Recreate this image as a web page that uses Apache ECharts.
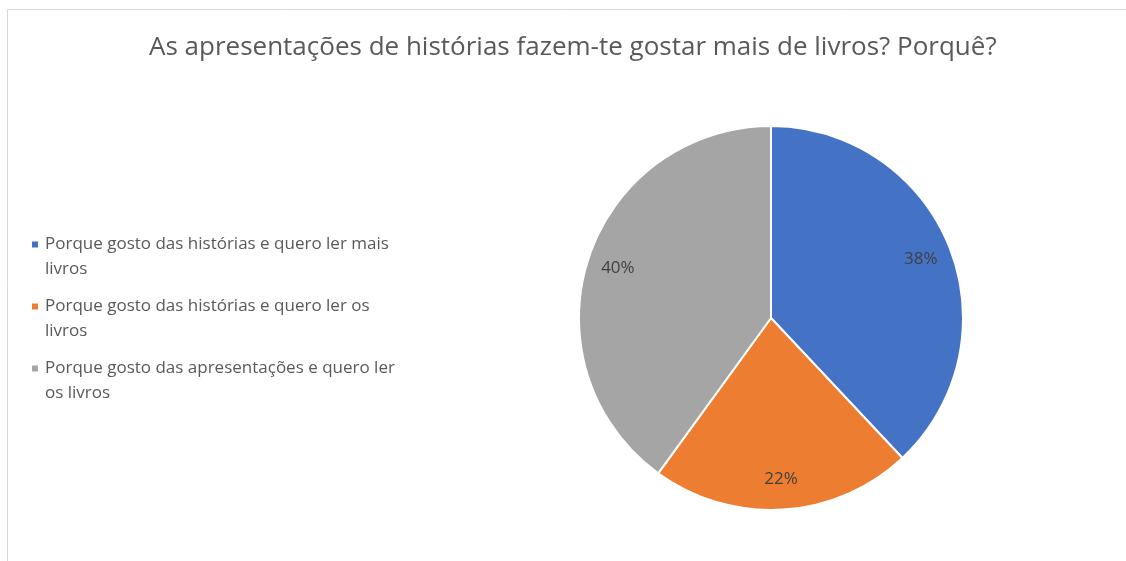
<!DOCTYPE html>
<html lang="en">
<head>
    <meta charset="UTF-8">
    <script src="https://cdn.jsdelivr.net/npm/echarts@6/dist/echarts.min.js"></script>
    <style>
        * {
            margin: 0;
            padding: 0;
        }
        #pie {
            width: 1126px;
            height: 561px;
            background: #fff;
        }
    </style>
</head>
<body>
<div id="pie"></div>

<script>
    const titleText = 'As apresentações de histórias fazem-te gostar mais de livros? Porquê?'
    const categories = [
        'Porque gosto das histórias e quero ler mais livros',
        'Porque gosto das histórias e quero ler os livros',
        'Porque gosto das apresentações e quero ler os livros'
    ]
    // legend text as it wraps in the picture
    const legendLines = [
        'Porque gosto das histórias e quero ler mais\nlivros',
        'Porque gosto das histórias e quero ler os\nlivros',
        'Porque gosto das apresentações e quero ler\nos livros'
    ]
    const values = [38, 22, 40]
    const colors = ['#4472C4', '#ED7D31', '#A5A5A5']

    const initPieChart = () => {
        const myChart = echarts.init(document.getElementById('pie'))
        const pieData = categories.map((name, i) => ({name, value: values[i]}))

        // square sits on the first text line: tiny segments stretch the path box to 2 lines
        const legendIcon = 'path://M0 0L0.01 0M0 9.5h6v6h-6zM8 50L7.99 50'

        const option = {
            animation: false,
            color: colors,
            title: {
                text: titleText,
                left: 144,
                top: 30,
                textStyle: {
                    fontFamily: 'Open Sans',
                    fontWeight: 'normal',
                    fontSize: 26,
                    color: '#595959'
                }
            },
            legend: {
                orient: 'vertical',
                left: 27,
                top: 227,
                icon: legendIcon,
                itemWidth: 8,
                itemHeight: 50,
                itemGap: 12,
                itemStyle: {borderWidth: 0},
                formatter: name => legendLines[categories.indexOf(name)],
                textStyle: {
                    fontFamily: 'Open Sans',
                    fontSize: 17,
                    color: '#595959',
                    lineHeight: 25
                },
                data: categories
            },
            graphic: [{
                type: 'rect',
                shape: {x: 7.5, y: 9.5, width: 1200, height: 600},
                style: {fill: 'none', stroke: '#d9d9d9', lineWidth: 1},
                silent: true
            }],
            series: [{
                type: 'pie',
                center: [771, 318],
                radius: 192,
                startAngle: 90,
                clockwise: true,
                itemStyle: {borderColor: '#fff', borderWidth: 2},
                label: {show: false},
                labelLine: {show: false},
                emphasis: {disabled: true},
                data: pieData
            }, {
                // label carrier, drawn transparent so labels sit near the rim
                type: 'pie',
                center: [771, 318],
                radius: [126, 190],
                startAngle: 90,
                clockwise: true,
                silent: true,
                itemStyle: {color: 'rgba(0,0,0,0)'},
                label: {
                    show: true,
                    position: 'inside',
                    fontFamily: 'Open Sans',
                    fontSize: 17,
                    color: '#404040',
                    formatter: p => Math.round(p.percent) + '%'
                },
                labelLine: {show: false},
                emphasis: {disabled: true},
                data: pieData
            }]
        }

        myChart.setOption(option)
    }

    initPieChart()
</script>
</body>
</html>
